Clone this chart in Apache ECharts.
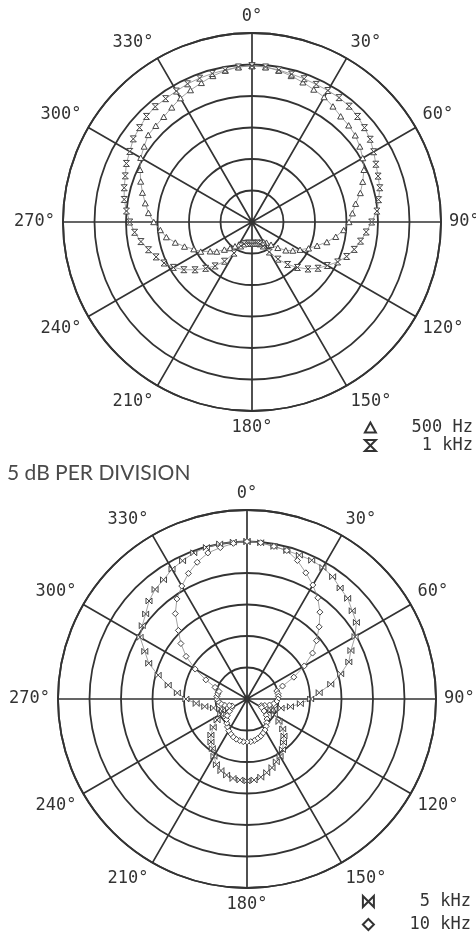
<!DOCTYPE html>
<html>
<head>
<meta charset="utf-8">
<script src="https://cdn.jsdelivr.net/npm/echarts@6/dist/echarts.min.js"></script>
<style>
html,body{margin:0;padding:0;background:#fff;}
#chart{width:476px;height:934px;}
</style>
</head>
<body>
<div id="chart"></div>
<script>
// Measurement angles (degrees)
const ANGLES = [0,5,10,15,20,25,30,35,40,45,50,55,60,65,70,75,80,85,90,95,100,105,110,115,120,125,130,135,140,145,150,155,160,165,170,175,180,185,190,195,200,205,210,215,220,225,230,235,240,245,250,255,260,265,270,275,280,285,290,295,300,305,310,315,320,325,330,335,340,345,350,355];

// Series levels in dB (0 dB = on-axis ring, 5 dB per division)
const HZ500 = [-0.2,-0.3,-0.6,-1.0,-1.4,-1.8,-2.1,-2.6,-3.1,-3.3,-3.6,-4.1,-4.7,-5.4,-6.3,-7.2,-8.3,-9.0,-9.6,-10.4,-11.5,-12.7,-14.0,-15.1,-16.2,-17.1,-18.0,-19.2,-20.3,-21.0,-21.3,-21.5,-21.6,-21.6,-21.7,-21.7,-21.7,
  -21.7,-21.6,-21.6,-21.5,-21.3,-20.9,-20.3,-19.6,-18.8,-17.7,-16.9,-15.6,-14.8,-13.6,-12.4,-11.2,-10.4,-9.4,-8.5,-7.8,-7.0,-6.2,-5.4,-4.6,-4.1,-3.5,-3.4,-3.2,-2.8,-2.3,-1.9,-1.5,-1.0,-0.6,-0.3];
const KHZ1 = [-0.2,-0.3,-0.5,-0.7,-0.8,-0.9,-0.9,-0.9,-1.0,-1.3,-1.7,-2.1,-2.7,-3.3,-3.7,-4.0,-4.6,-5.1,-6.0,-6.8,-7.5,-8.2,-9.0,-10.0,-11.2,-12.2,-13.4,-14.8,-16.2,-17.8,-19.5,-20.8,-21.3,-21.5,-21.6,-21.6,-21.6,
  -21.6,-21.6,-21.5,-21.3,-20.8,-19.3,-17.4,-15.9,-14.6,-13.2,-11.8,-10.6,-9.6,-8.8,-8.0,-7.1,-6.3,-5.6,-5.0,-4.4,-4.0,-3.6,-3.0,-2.6,-2.0,-1.7,-1.3,-1.1,-1.1,-1.0,-0.8,-0.7,-0.6,-0.5,-0.3];
const KHZ5 = [0.0,-0.1,-0.4,-0.6,-0.7,-0.7,-0.9,-1.3,-2.0,-2.4,-3.2,-3.8,-5.2,-6.8,-7.8,-9.6,-11.5,-13.5,-14.9,-16.5,-18.0,-19.4,-20.4,-20.8,-20.0,-18.8,-17.6,-16.7,-16.0,-15.2,-14.5,-14.0,-13.4,-12.9,-12.4,-12.1,-12.0,
  -12.1,-12.2,-12.5,-12.9,-13.5,-14.5,-15.4,-16.1,-16.9,-18.0,-19.2,-20.2,-20.7,-20.4,-19.5,-18.2,-16.9,-15.3,-13.9,-12.3,-10.4,-8.4,-7.1,-5.4,-4.7,-4.0,-3.0,-2.3,-1.9,-1.2,-0.8,-0.3,-0.1,0.0,0.0];
const KHZ10 = [0.0,-0.1,-0.4,-0.6,-1.6,-2.9,-4.1,-5.4,-7.0,-8.8,-10.6,-12.3,-14.5,-16.8,-19.0,-20.1,-20.0,-20.0,-20.1,-20.3,-20.7,-21.3,-22.0,-22.5,-22.3,-21.7,-21.0,-20.5,-20.1,-19.7,-19.3,-19.0,-18.7,-18.5,-18.3,-18.2,-18.2,
  -18.2,-18.3,-18.4,-18.6,-18.9,-19.2,-19.6,-20.0,-20.4,-20.9,-21.6,-22.2,-22.4,-22.0,-21.3,-20.8,-20.4,-20.2,-20.2,-20.3,-20.4,-19.6,-17.8,-15.5,-13.2,-11.3,-9.6,-7.3,-5.6,-4.3,-3.0,-1.9,-1.0,-0.6,-0.2];

const SERIES_NAMES = ['500 Hz', '1 kHz', '5 kHz', '10 kHz'];
const LEGEND_TEXT = {'500 Hz': '500 Hz', '1 kHz': ' 1 kHz', '5 kHz': ' 5 kHz', '10 kHz': '10 kHz'};
const RADIUS_MIN = -25, RADIUS_MAX = 5, RADIUS_STEP = 5;
const ANGLE_STEP = 30;
const TITLE = '5 dB PER DIVISION';

const SYM = {
  tri: 'path://M5,0L10,9L0,9Z',
  hour: 'path://M0,0L10,0L0,10L10,10Z',
  bow: 'path://M0,0L10,10L10,0L0,10Z',
  dia: 'path://M5,0L10,5L5,10L0,5Z'
};

function toPolar(vals) {
  const d = ANGLES.map((a, i) => [vals[i], a]);
  d.push([vals[0], 360]);
  return d;
}

const GRID = '#333333';
const MONO = 'DejaVu Sans Mono';

function makeAngle(idx) {
  return {
    polarIndex: idx, type: 'value', min: 0, max: 360, interval: ANGLE_STEP,
    startAngle: 90, clockwise: true,
    axisLine: {show: true, lineStyle: {color: GRID, width: 1.8}},
    axisTick: {show: false},
    splitLine: {show: true, lineStyle: {color: GRID, width: 1.7}},
    axisLabel: {show: true, margin: 8, color: '#333', fontFamily: MONO, fontSize: 17,
      formatter: v => (v >= 360 ? '' : v + '°')}
  };
}
function makeRadius(idx) {
  return {
    polarIndex: idx, type: 'value', min: RADIUS_MIN, max: RADIUS_MAX, interval: RADIUS_STEP,
    axisLine: {show: false}, axisTick: {show: false}, axisLabel: {show: false},
    splitLine: {show: true, lineStyle: {color: GRID, width: 1.8}}
  };
}
function makeSeries(name, vals, sym, pidx) {
  return {
    name: name, type: 'line', coordinateSystem: 'polar', polarIndex: pidx,
    data: toPolar(vals), symbol: sym, symbolSize: 6, symbolKeepAspect: true,
    showAllSymbol: true, smooth: false, animation: false,
    lineStyle: {color: '#8a8a8a', width: 0.8},
    itemStyle: {color: '#ffffff', borderColor: '#444', borderWidth: 1},
    z: 3
  };
}

const legendText = {fontFamily: MONO, fontSize: 17, color: '#333', lineHeight: 15};

const chart = echarts.init(document.getElementById('chart'), null, {renderer: 'canvas'});
chart.setOption({
  backgroundColor: '#ffffff',
  animation: false,
  title: {text: TITLE, left: 2, top: 458,
    textStyle: {fontFamily: 'Lato', fontWeight: 'normal', fontSize: 21, color: '#4a4a4a'}},
  polar: [
    {center: [252, 222], radius: 189},
    {center: [247, 699], radius: 189}
  ],
  angleAxis: [makeAngle(0), makeAngle(1)],
  radiusAxis: [makeRadius(0), makeRadius(1)],
  legend: [
    {data: [{name: SERIES_NAMES[0], icon: SYM.tri}, {name: SERIES_NAMES[1], icon: SYM.hour}],
     orient: 'vertical', right: 3, top: 419, itemWidth: 11, itemHeight: 11, itemGap: 1,
     padding: 0, height: 60,
     formatter: n => '   ' + LEGEND_TEXT[n],
     itemStyle: {color: '#fff', borderColor: '#333', borderWidth: 2},
     textStyle: legendText},
    {data: [{name: SERIES_NAMES[2], icon: SYM.bow}, {name: SERIES_NAMES[3], icon: SYM.dia}],
     orient: 'vertical', right: 5, top: 893, itemWidth: 11, itemHeight: 11, itemGap: 6,
     padding: 0, height: 60,
     formatter: n => '   ' + LEGEND_TEXT[n],
     itemStyle: {color: '#fff', borderColor: '#333', borderWidth: 2},
     textStyle: legendText}
  ],
  series: [
    makeSeries(SERIES_NAMES[0], HZ500, SYM.tri, 0),
    makeSeries(SERIES_NAMES[1], KHZ1, SYM.hour, 0),
    makeSeries(SERIES_NAMES[2], KHZ5, SYM.bow, 1),
    makeSeries(SERIES_NAMES[3], KHZ10, SYM.dia, 1)
  ]
});
</script>
</body>
</html>
